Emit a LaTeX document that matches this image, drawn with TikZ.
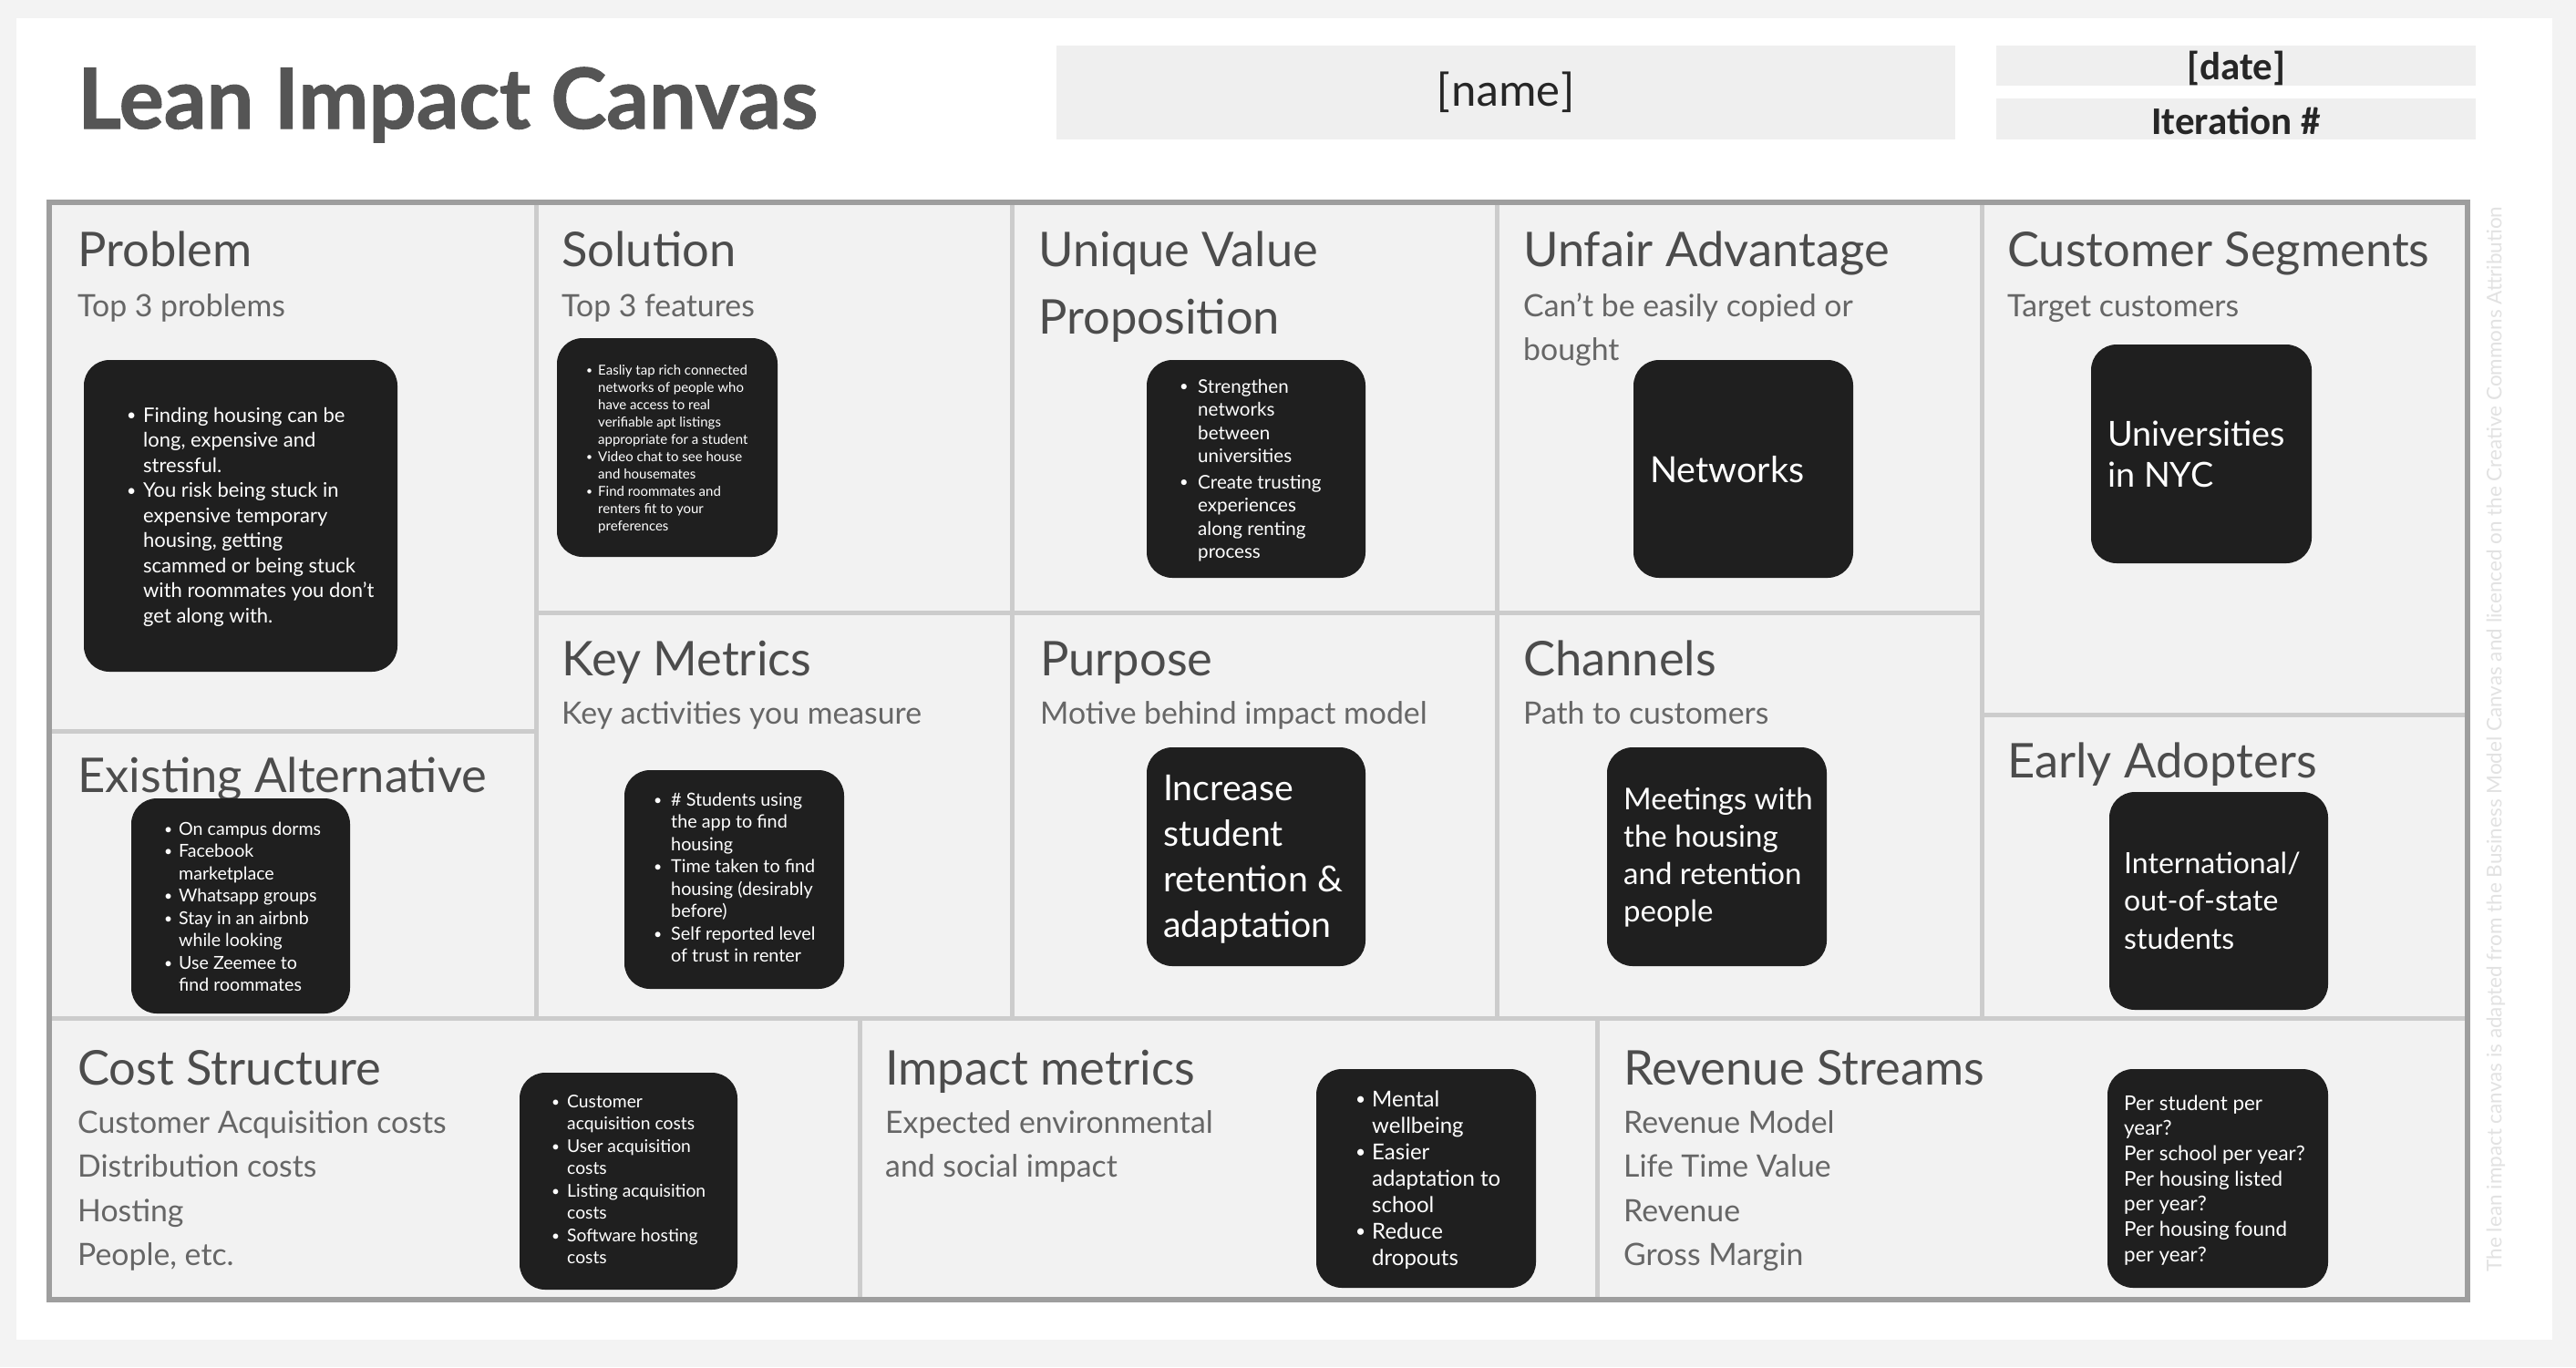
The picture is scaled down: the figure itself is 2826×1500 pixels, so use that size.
\documentclass[tikz,border=0pt]{standalone}
\usepackage{fontspec}
\usepackage{graphicx}
\setmainfont{Lato}
\newfontfamily\hdrfont{Carlito}
\definecolor{pagebg}{HTML}{F3F3F3}
\definecolor{cellbg}{HTML}{F2F2F2}
\definecolor{gridc}{HTML}{CCCCCC}
\definecolor{outerc}{HTML}{9E9E9E}
\definecolor{boxc}{HTML}{1F1F1F}
\definecolor{titlec}{HTML}{4C4C4C}
\definecolor{subc}{HTML}{666666}
\definecolor{bigtitle}{HTML}{555555}
\definecolor{fieldc}{HTML}{EFEFEF}
\definecolor{wmark}{HTML}{E2E2E2}
\newcommand\bul[1]{\makebox[#1][l]{\raisebox{.05em}{\scalebox{.8}{\textbullet}}}}
\newcommand\ind[1]{\hspace*{#1}}
\newcommand\lns[1]{\begin{tabular}[t]{@{}l@{}}#1\end{tabular}}
\tikzset{
  celltitle/.style={anchor=base west, inner sep=0pt, text=titlec, font=\fontsize{52.5}{74}\selectfont},
  cellsub/.style={anchor=base west, inner sep=0pt, text=subc, font=\fontsize{33.8}{48.6}\selectfont},
  darkbox/.style={fill=boxc, draw=none, rounded corners=28pt},
  boxtext/.style={anchor=base west, inner sep=0pt, text=white},
  gridline/.style={draw=gridc, line width=5pt},
  field/.style={fill=fieldc, draw=none},
}
\begin{document}
\begin{tikzpicture}[x=1pt,y=-1pt]
% page
\fill[pagebg] (0,0) rectangle (2826,1500);
\fill[white] (18,20) rectangle (2800,1470);
\useasboundingbox (0,0) rectangle (2826,1500);
% header
\node[anchor=base west, inner sep=0pt, text=bigtitle, font=\fontsize{92}{94}\selectfont\bfseries\addfontfeature{FakeBold=1.2}] (title) at (85,141) {Lean Impact Canvas};
\path[field] (1159,50) rectangle (2145,153);
\node[inner sep=0pt, font=\hdrfont\fontsize{52}{56}\selectfont, text=black!85] (name) at (1652,101) {[name]};
\path[field] (2190,50) rectangle (2716,94);
\path[field] (2190,108) rectangle (2716,153);
\node[inner sep=0pt, font=\hdrfont\bfseries\fontsize{43}{46}\selectfont, text=black!85] (date) at (2453,75) {[date]};
\node[inner sep=0pt, font=\hdrfont\bfseries\fontsize{43}{46}\selectfont, text=black!85] (iter) at (2453,133) {Iteration \#};
% canvas
\fill[cellbg] (54,222) rectangle (2707,1426);
\draw[gridline] (588,222) -- (588,1117);
\draw[gridline] (1110,222) -- (1110,1117);
\draw[gridline] (1642,222) -- (1642,1117);
\draw[gridline] (2174,222) -- (2174,1117);
\draw[gridline] (54,1117) -- (2707,1117);
\draw[gridline] (54,802) -- (588,802);
\draw[gridline] (588,672) -- (2174,672);
\draw[gridline] (2174,784) -- (2707,784);
\draw[gridline] (943,1117) -- (943,1426);
\draw[gridline] (1752,1117) -- (1752,1426);
\draw[draw=outerc, line width=6pt] (54,222) rectangle (2707,1426);
% watermark
\node[rotate=90, inner sep=0pt, text=wmark, font=\fontsize{22.5}{24}\selectfont] (wm) at (2738,811) {The lean impact canvas is adapted from the Business Model Canvas and licenced on the Creative Commons Attribution};
% cell titles
\node[celltitle] (tprob) at (85,292) {Problem};
\node[cellsub] (sprob) at (85,347) {Top 3 problems};
\node[celltitle] (tsol) at (616,292) {Solution};
\node[cellsub] (ssol) at (616,347) {Top 3 features};
\node[celltitle] (tuvp) at (1139,292) {\lns{Unique Value\\Proposition}};
\node[celltitle] (tua) at (1671,292) {Unfair Advantage};
\node[cellsub] (sua) at (1671,347) {\lns{Can't be easily copied or\\bought}};
\node[celltitle] (tcs) at (2202,292) {Customer Segments};
\node[cellsub] (scs) at (2202,347) {Target customers};
\node[celltitle] (tea) at (85,869) {Existing Alternative};
\node[celltitle] (tkm) at (616,741) {Key Metrics};
\node[cellsub] (skm) at (616,794) {Key activities you measure};
\node[celltitle] (tpur) at (1141,741) {Purpose};
\node[cellsub] (spur) at (1141,794) {Motive behind impact model};
\node[celltitle] (tch) at (1671,741) {Channels};
\node[cellsub] (sch) at (1671,794) {Path to customers};
\node[celltitle] (tead) at (2202,853) {Early Adopters};
\node[celltitle] (tcost) at (85,1190) {Cost Structure};
\node[cellsub] (scost) at (85,1243) {\lns{Customer Acquisition costs\\Distribution costs\\Hosting\\People, etc.}};
\node[celltitle] (timp) at (971,1190) {Impact metrics};
\node[cellsub] (simp) at (971,1243) {\lns{Expected environmental\\and social impact}};
\node[celltitle] (trev) at (1781,1190) {Revenue Streams};
\node[cellsub] (srev) at (1781,1243) {\lns{Revenue Model\\Life Time Value\\Revenue\\Gross Margin}};
% dark boxes
\path[darkbox] (92,395) rectangle (436,737);
\path[darkbox] (611,371) rectangle (853,611);
\path[darkbox] (1258,395) rectangle (1498,634);
\path[darkbox] (1792,395) rectangle (2033,634);
\path[darkbox] (2294,378) rectangle (2536,618);
\path[darkbox] (144,876) rectangle (384,1112);
\path[darkbox] (685,845) rectangle (926,1085);
\path[darkbox] (1258,820) rectangle (1498,1060);
\path[darkbox] (1763,820) rectangle (2004,1060);
\path[darkbox] (2314,869) rectangle (2554,1108);
\path[darkbox] (570,1177) rectangle (809,1415);
\path[darkbox] (1444,1173) rectangle (1685,1413);
\path[darkbox] (2312,1173) rectangle (2554,1413);
% box texts
\node[boxtext, font=\fontsize{22}{27.5}\selectfont] (xprob) at (139,463) {\lns{%
\bul{18pt}Finding housing can be\\ \ind{18pt}long, expensive and\\ \ind{18pt}stressful.\\
\bul{18pt}You risk being stuck in\\ \ind{18pt}expensive temporary\\ \ind{18pt}housing, getting\\
\ind{18pt}scammed or being stuck\\ \ind{18pt}with roommates you don't\\ \ind{18pt}get along with.}};
\node[boxtext, font=\fontsize{15}{19}\selectfont] (xsol) at (643,411) {\lns{%
\bul{13pt}Easliy tap rich connected\\ \ind{13pt}networks of people who\\ \ind{13pt}have access to real\\
\ind{13pt}verifiable apt listings\\ \ind{13pt}appropriate for a student\\
\bul{13pt}Video chat to see house\\ \ind{13pt}and housemates\\
\bul{13pt}Find roommates and\\ \ind{13pt}renters fit to your\\ \ind{13pt}preferences}};
\node[boxtext, font=\fontsize{20.6}{25.5}\selectfont] (xuvp) at (1294,431) {\lns{%
\bul{20pt}Strengthen\\ \ind{20pt}networks\\ \ind{20pt}between\\ \ind{20pt}universities\\[3pt]
\bul{20pt}Create trusting\\ \ind{20pt}experiences\\ \ind{20pt}along renting\\ \ind{20pt}process}};
\node[boxtext, font=\fontsize{39.5}{45}\selectfont] (xua) at (1810,529) {Networks};
\node[boxtext, font=\fontsize{37.8}{45}\selectfont] (xcs) at (2312,489) {\lns{Universities\\in NYC}};
\node[boxtext, font=\fontsize{19.6}{24.5}\selectfont] (xea) at (180,916) {\lns{%
\bul{16pt}On campus dorms\\ \bul{16pt}Facebook\\ \ind{16pt}marketplace\\ \bul{16pt}Whatsapp groups\\
\bul{16pt}Stay in an airbnb\\ \ind{16pt}while looking\\ \bul{16pt}Use Zeemee to\\ \ind{16pt}find roommates}};
\node[boxtext, font=\fontsize{19.8}{24.5}\selectfont] (xkm) at (717,884) {\lns{%
\bul{19pt}\# Students using\\ \ind{19pt}the app to find\\ \ind{19pt}housing\\
\bul{19pt}Time taken to find\\ \ind{19pt}housing (desirably\\ \ind{19pt}before)\\
\bul{19pt}Self reported level\\ \ind{19pt}of trust in renter}};
\node[boxtext, font=\fontsize{39.3}{50}\selectfont] (xpur) at (1276,878) {\lns{Increase\\student\\retention \&\\adaptation}};
\node[boxtext, font=\fontsize{33}{41}\selectfont] (xch) at (1781,888) {\lns{Meetings with\\the housing\\and retention\\people}};
\node[boxtext, font=\fontsize{32}{41.5}\selectfont] (xead) at (2330,958) {\lns{International/\\out-of-state\\students}};
\node[boxtext, font=\fontsize{19.3}{24.5}\selectfont] (xcost) at (605,1215) {\lns{%
\bul{17pt}Customer\\ \ind{17pt}acquisition costs\\ \bul{17pt}User acquisition\\ \ind{17pt}costs\\
\bul{17pt}Listing acquisition\\ \ind{17pt}costs\\ \bul{17pt}Software hosting\\ \ind{17pt}costs}};
\node[boxtext, font=\fontsize{24}{29}\selectfont] (ximp) at (1487,1214) {\lns{%
\bul{18pt}Mental\\ \ind{18pt}wellbeing\\ \bul{18pt}Easier\\ \ind{18pt}adaptation to\\ \ind{18pt}school\\
\bul{18pt}Reduce\\ \ind{18pt}dropouts}};
\node[boxtext, font=\fontsize{22.4}{27.7}\selectfont] (xrev) at (2330,1218) {\lns{%
Per student per\\year?\\Per school per year?\\Per housing listed\\per year?\\Per housing found\\per year?}};
\end{tikzpicture}
\end{document}
